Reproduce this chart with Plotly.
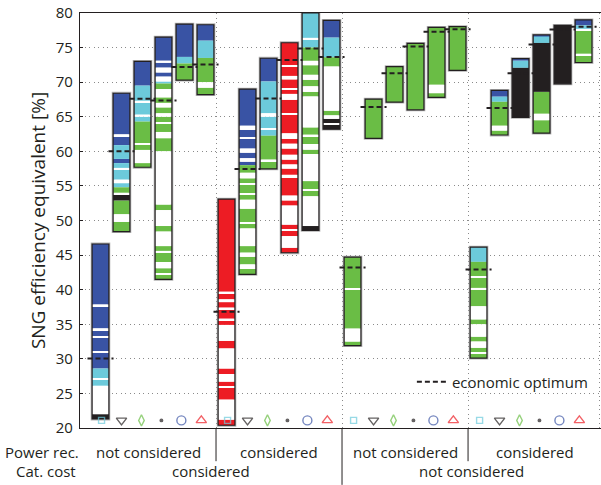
import plotly.graph_objects as go

# Colour codes used in the segment strings below
PALETTE = {
    "B": "#3953a4",  # dark blue
    "C": "#6ccadb",  # light blue
    "G": "#6abd45",  # green
    "R": "#ed1c24",  # red
    "K": "#231f20",  # black
    "W": "#ffffff",  # gap
}

# Each bar: segment boundaries from top to bottom [% SNG efficiency equivalent]
# plus one colour code per segment; *_opt holds the economic optimum of each bar.
g1_bounds = [
    [46.6, 37.85, 37.6, 34.4, 34.15, 33.3, 33.1, 31.1, 30.85, 28.6, 27.2, 26.95, 26.1, 22.0, 21.3],
    [68.4, 62.45, 62.2, 60.9, 58.9, 58.3, 57.6, 57.4, 55.9, 55.4, 54.8, 54.0, 53.75, 52.9, 50.9, 49.8, 48.4],
    [73.0, 69.5, 67.3, 67.05, 65.3, 65.0, 64.3, 61.2, 60.95, 60.2, 58.3, 57.7],
    [76.5, 73.1, 72.8, 72.1, 71.4, 70.8, 70.1, 69.8, 69.0, 67.8, 67.0, 66.35, 65.5, 65.0, 64.2, 64.0,
     62.8, 61.9, 60.0, 52.3, 51.5, 49.2, 48.4, 46.3, 45.6, 45.4, 44.0, 43.1, 42.4, 42.2, 41.5],
    [78.4, 73.65, 72.7, 70.3],
    [78.3, 76.0, 73.5, 70.0, 69.2, 68.2],
]
g1_colors = ["BWBWBWBWBCWCWK", "BWBCBCWCWCGWKGWG", "BCWCWCGWGWG",
             "BWBWBWCG" + "WG" * 11, "BCG", "BCGWG"]
g1_opt = [30.05, 60.0, 67.6, 67.35, 72.2, 72.55]

g2_bounds = [
    [53.1, 39.7, 39.45, 38.6, 38.2, 37.4, 37.2, 35.8, 35.6, 34.9, 32.6, 31.5, 28.6, 27.8, 26.7, 26.0,
     25.8, 24.1, 21.2, 20.4],
    [69.0, 63.7, 63.1, 62.0, 61.8, 60.4, 59.8, 59.0, 58.5, 58.0, 56.9, 56.1, 55.4, 55.2, 53.9, 53.7,
     53.0, 51.7, 49.7, 49.5, 48.85, 46.3, 45.35, 44.75, 43.65, 43.0, 42.2],
    [73.46, 70.1, 65.5, 65.0, 63.3, 63.1, 62.26, 58.8, 58.6, 57.45],
    [75.7, 72.4, 72.2, 70.9, 70.4, 69.1, 68.9, 68.3, 67.45, 65.5, 65.3, 62.6, 61.8, 61.1, 60.4, 59.5,
     58.8, 58.1, 57.5, 56.6, 56.15, 53.6, 52.9, 52.16, 49.4, 48.7, 48.5, 47.74, 46.06, 45.34],
    [80.0, 76.4, 76.2, 75.0, 73.08, 72.45, 71.06, 70.34, 69.4, 68.6, 67.93, 63.46, 62.4, 62.2, 61.06,
     60.24, 59.6, 55.7, 54.5, 54.3, 53.5, 49.2, 48.56],
    [78.94, 76.44, 73.6, 72.26, 65.87, 65.2, 64.7, 64.1, 63.9, 63.2],
]
g2_colors = ["RW" * 9 + "R", "BWBWBWBWB" + "GW" * 8 + "G", "BCWCWCGWG",
             "RW" * 14 + "R", "CWC" + "GW" * 9 + "K", "BCGWGWKWK"]
g2_opt = [36.8, 57.45, 67.64, 73.2, 74.86, 73.65]

g3_bounds = [
    [44.7, 40.2, 40.0, 34.37, 32.5, 31.9],
    [67.55, 61.87],
    [72.26, 67.12],
    [75.6, 66.0],
    [77.93, 69.62, 68.41, 67.8],
    [78.03, 71.7],
]
g3_colors = ["GWGWG", "G", "G", "G", "GWG", "G"]
g3_opt = [43.2, 66.4, 71.3, 75.14, 77.3, 77.64]

g4_bounds = [
    [46.15, 44.02, 41.9, 41.7, 40.25, 40.05, 37.6, 35.7, 35.0, 33.2, 32.5, 31.6, 30.9, 30.7, 30.1],
    [68.8, 67.9, 67.16, 63.7, 63.0, 62.36],
    [73.4, 73.1, 72.07, 64.9],
    [76.83, 76.6, 75.67, 68.6, 65.43, 64.5, 62.64],
    [78.22, 69.76],
    [79.0, 78.22, 77.7, 77.5, 74.1, 73.9, 72.84],
]
g4_colors = ["C" + "GW" * 6 + "G", "BCGWG", "BCK", "BCKGWG", "K", "BCWGWG"]
g4_opt = [42.9, 66.25, 71.3, 75.43, 77.6, 78.03]

power_rec_labels = ["not considered", "considered", "not considered", "considered"]
cat_cost_labels = ["considered", "not considered"]

# Scenario markers shown under every bar of a group
marker_symbols = ["square-open", "triangle-down-open", "diamond-tall-open",
                  "circle", "circle-open", "triangle-up-open"]
marker_colors = ["#6ccadb", "#231f20", "#6abd45", "#231f20", "#3953a4", "#ed1c24"]
marker_sizes = [6, 9, 8, 2.5, 9, 9]

groups = [(g1_bounds, g1_colors, g1_opt), (g2_bounds, g2_colors, g2_opt),
          (g3_bounds, g3_colors, g3_opt), (g4_bounds, g4_colors, g4_opt)]
N_PER_GROUP = 6
BAR_W = 0.8
X_MIN, X_MAX = 0.024, 24.83
INK = "#231f20"
FONT = "Open Sans"

seg = {c: {"x": [], "base": [], "h": []} for c in PALETTE}
bar_x, bar_base, bar_h = [], [], []
opt_x, opt_y = [], []
mk_x, mk_sym, mk_col, mk_size = [], [], [], []

for g, (bounds, colors, opts) in enumerate(groups):
    g_start = N_PER_GROUP * g + 0.5
    for j in range(N_PER_GROUP):
        xc = N_PER_GROUP * g + j + 1
        b, cs = bounds[j], colors[j]
        for k, c in enumerate(cs):
            seg[c]["x"].append(xc)
            seg[c]["base"].append(b[k + 1])
            seg[c]["h"].append(b[k] - b[k + 1])
        bar_x.append(xc)
        bar_base.append(b[-1])
        bar_h.append(b[0] - b[-1])
        opt_x += [xc - 0.62, xc + 0.62, None]
        opt_y += [opts[j], opts[j], None]
        mk_x.append(g_start + 0.55 + 0.95 * j)
        mk_sym.append(marker_symbols[j])
        mk_col.append(marker_colors[j])
        mk_size.append(marker_sizes[j])

fig = go.Figure()

# soft grey halo around each bar
fig.add_trace(go.Bar(
    x=bar_x, y=bar_h, base=bar_base, width=BAR_W, showlegend=False, hoverinfo="skip",
    marker=dict(color="rgba(0,0,0,0)", line=dict(color="#b4b4b4", width=2.8)),
))

# coloured segments
for c, d in seg.items():
    if not d["x"]:
        continue
    fig.add_trace(go.Bar(
        x=d["x"], y=d["h"], base=d["base"], width=BAR_W, showlegend=False,
        marker=dict(color=PALETTE[c], line=dict(width=0)),
    ))

# black bar outline
fig.add_trace(go.Bar(
    x=bar_x, y=bar_h, base=bar_base, width=BAR_W, showlegend=False, hoverinfo="skip",
    marker=dict(color="rgba(0,0,0,0)", line=dict(color=INK, width=1.2)),
))

# economic optimum of every bar
fig.add_trace(go.Scatter(
    x=opt_x, y=opt_y, mode="lines", name="economic optimum", showlegend=True,
    line=dict(color=INK, width=2, dash="5px,3px"),
))

# scenario markers
fig.add_trace(go.Scatter(
    x=mk_x, y=[21.1] * len(mk_x), mode="markers", showlegend=False,
    marker=dict(symbol=mk_sym, color=mk_col, size=mk_size, line=dict(width=1.4, color=mk_col)),
))

group_edges = [N_PER_GROUP * g + 0.5 for g in range(1, len(groups))]

# category labels below the axis
annotations = []
row1_y, row2_y = -0.058, -0.104
spans = [X_MIN] + group_edges + [X_MAX]
for g, lab in enumerate(power_rec_labels):
    annotations.append(dict(x=(spans[g] + spans[g + 1]) / 2, y=row1_y, xref="x", yref="paper",
                            text=lab, showarrow=False, xanchor="center", yanchor="middle"))
half = [X_MIN, group_edges[1], X_MAX]
for i, lab in enumerate(cat_cost_labels):
    annotations.append(dict(x=(half[i] + half[i + 1]) / 2, y=row2_y, xref="x", yref="paper",
                            text=lab, showarrow=False, xanchor="center", yanchor="middle"))
annotations.append(dict(x=0.002, y=row1_y, xref="paper", yref="paper", text="Power rec.",
                        showarrow=False, xanchor="right", yanchor="middle"))
annotations.append(dict(x=-0.003, y=row2_y, xref="paper", yref="paper", text="Cat. cost",
                        showarrow=False, xanchor="right", yanchor="middle"))

shapes = []
for i, xe in enumerate(group_edges):
    y_end = -0.137 if i == 1 else -0.08
    shapes.append(dict(type="line", xref="x", yref="paper", x0=xe, x1=xe, y0=0, y1=y_end,
                       line=dict(color=INK, width=1)))

fig.update_layout(
    width=601, height=485,
    margin=dict(l=80, r=0, t=13, b=57, autoexpand=False),
    plot_bgcolor="white", paper_bgcolor="white",
    barmode="overlay",
    font=dict(family=FONT, size=15, color=INK),
    annotations=annotations, shapes=shapes,
    legend=dict(x=0.637, y=0.111, xanchor="left", yanchor="middle",
                bgcolor="rgba(0,0,0,0)", font=dict(size=15), borderwidth=0),
    xaxis=dict(range=[X_MIN, X_MAX], showline=True, linecolor=INK, linewidth=1.3, mirror=True,
               tickvals=group_edges + [24.74], showticklabels=False, ticks="",
               showgrid=True, gridcolor="#8a8a8a", gridwidth=1, griddash="1px,3.5px",
               zeroline=False),
    yaxis=dict(range=[20, 80], tick0=20, dtick=5, showline=True, linecolor=INK, linewidth=1.3,
               ticks="inside", ticklen=3, tickcolor=INK, ticklabelstandoff=3,
               showgrid=True, gridcolor="#8a8a8a", gridwidth=1, griddash="1px,3.5px",
               zeroline=False, tickfont=dict(size=15),
               title=dict(text="SNG efficiency equivalent [%]", font=dict(size=19), standoff=5)),
)

fig.write_html("out.html")
